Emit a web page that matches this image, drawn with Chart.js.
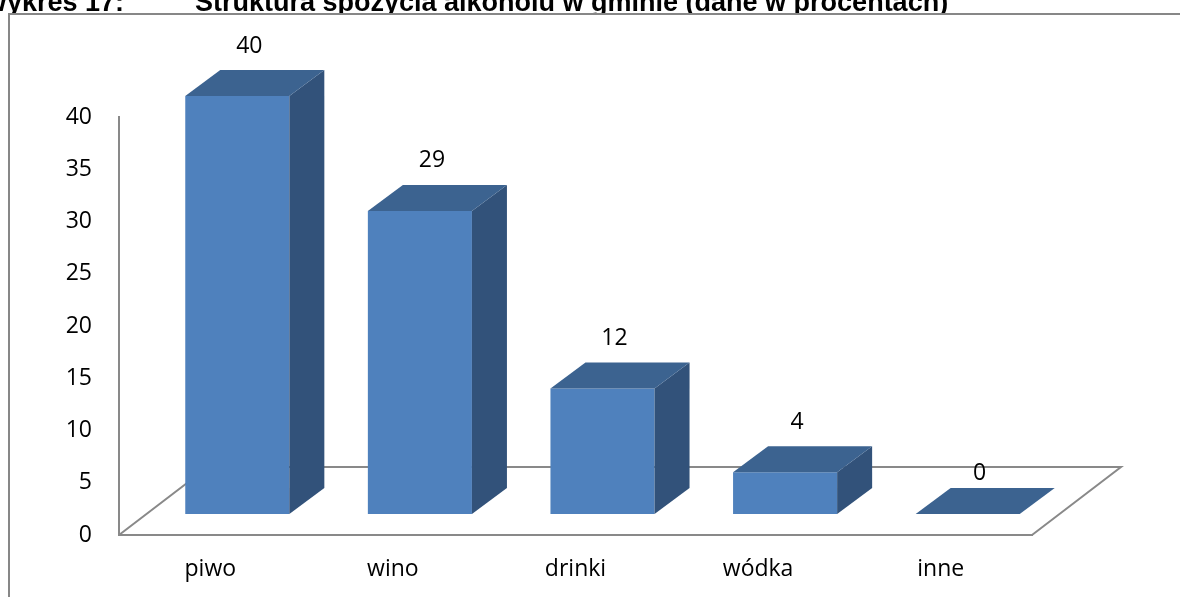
<!DOCTYPE html>
<html>
<head>
<meta charset="utf-8">
<script src="https://cdn.jsdelivr.net/npm/chart.js@4/dist/chart.umd.min.js"></script>
<style>
  html, body { margin: 0; padding: 0; background: #fff; }
  canvas { display: block; }
</style>
</head>
<body>
<canvas id="myChart" width="1180" height="597"></canvas>
<script>
var categories = ['piwo', 'wino', 'drinki', 'wódka', 'inne'];
var values = [40, 29, 12, 4, 0];
var axisMax = 40;
var axisStep = 5;
var titleNo = 'Wykres 17:';
var titleText = 'Struktura spożycia alkoholu w gminie (dane w procentach)';

// 3d look, in px
var DEPTH_X = 35, DEPTH_Y = 26;    // depth of each bar
var SHIFT_X = 27, SHIFT_Y = 21;    // bars stand this far behind the floor front edge
var FLOOR_X = 89, FLOOR_Y = 68;    // depth of the floor

var frontColor = '#4f81bd';
var topColor = '#3c6390';
var sideColor = '#32527a';
var lineColor = '#898989';
var labelFont = { family: '"Open Sans", "Noto Sans", sans-serif', size: 23 };

var bar3d = {
    id: 'bar3d',
    beforeDraw: function (chart) {
        var ctx = chart.ctx;
        ctx.save();
        ctx.beginPath();
        ctx.rect(0, 0, chart.width, 13);
        ctx.clip();
        ctx.fillStyle = '#000';
        ctx.font = 'bold 27px "Liberation Sans", Arial, sans-serif';
        ctx.textBaseline = 'alphabetic';
        ctx.fillText(titleNo, -18, 11);
        ctx.fillText(titleText, 195, 11);
        ctx.restore();

        // outer frame
        ctx.save();
        ctx.strokeStyle = '#878787';
        ctx.lineWidth = 2;
        ctx.beginPath();
        ctx.moveTo(9, chart.height);
        ctx.lineTo(9, 14);
        ctx.lineTo(chart.width, 14);
        ctx.stroke();
        ctx.restore();
    },
    beforeDatasetsDraw: function (chart) {
        var ctx = chart.ctx;
        var a = chart.chartArea;
        ctx.save();
        ctx.strokeStyle = lineColor;
        ctx.lineWidth = 2;
        ctx.beginPath();
        ctx.moveTo(a.left, a.bottom);
        ctx.lineTo(a.left + FLOOR_X, a.bottom - FLOOR_Y);
        ctx.lineTo(a.right + FLOOR_X, a.bottom - FLOOR_Y);
        ctx.lineTo(a.right, a.bottom);
        ctx.stroke();
        ctx.restore();

        ctx.save();
        ctx.translate(SHIFT_X, -SHIFT_Y);
    },
    afterDatasetsDraw: function (chart) {
        var ctx = chart.ctx;
        var meta = chart.getDatasetMeta(0);
        meta.data.forEach(function (bar, i) {
            var p = bar.getProps(['x', 'y', 'base', 'width'], true);
            var l = p.x - p.width / 2, r = p.x + p.width / 2;

            ctx.fillStyle = sideColor;
            ctx.beginPath();
            ctx.moveTo(r, p.y);
            ctx.lineTo(r + DEPTH_X, p.y - DEPTH_Y);
            ctx.lineTo(r + DEPTH_X, p.base - DEPTH_Y);
            ctx.lineTo(r, p.base);
            ctx.closePath();
            ctx.fill();

            ctx.fillStyle = topColor;
            ctx.beginPath();
            ctx.moveTo(l, p.y);
            ctx.lineTo(r, p.y);
            ctx.lineTo(r + DEPTH_X, p.y - DEPTH_Y);
            ctx.lineTo(l + DEPTH_X, p.y - DEPTH_Y);
            ctx.closePath();
            ctx.fill();

            ctx.fillStyle = '#000';
            ctx.font = labelFont.size + 'px ' + labelFont.family;
            ctx.textAlign = 'center';
            ctx.textBaseline = 'middle';
            var gap = values[i] === 0 ? 15 : 24;
            ctx.fillText(String(values[i]), p.x + 12, p.y - DEPTH_Y - gap);
        });
        ctx.restore();
    }
};

var ctx = document.getElementById('myChart').getContext('2d');
new Chart(ctx, {
    type: 'bar',
    data: {
        labels: categories,
        datasets: [{
            data: values,
            backgroundColor: frontColor,
            borderWidth: 0,
            barPercentage: 0.57,
            categoryPercentage: 1,
            clip: false
        }]
    },
    options: {
        responsive: false,
        animation: false,
        layout: { padding: { top: 117, right: 148, bottom: 0, left: 0 } },
        plugins: {
            legend: { display: false },
            tooltip: { enabled: false }
        },
        scales: {
            x: {
                grid: { display: false, drawTicks: false },
                border: { color: lineColor, width: 2 },
                ticks: { padding: 21, font: labelFont, color: '#000' },
                afterFit: function (s) { s.height = 62; }
            },
            y: {
                min: 0,
                max: axisMax,
                grid: { display: false, drawTicks: false },
                border: { color: lineColor, width: 2 },
                ticks: { stepSize: axisStep, padding: 27, font: labelFont, color: '#000' },
                afterFit: function (s) { s.width = 119; }
            }
        }
    },
    plugins: [bar3d]
});
</script>
</body>
</html>
